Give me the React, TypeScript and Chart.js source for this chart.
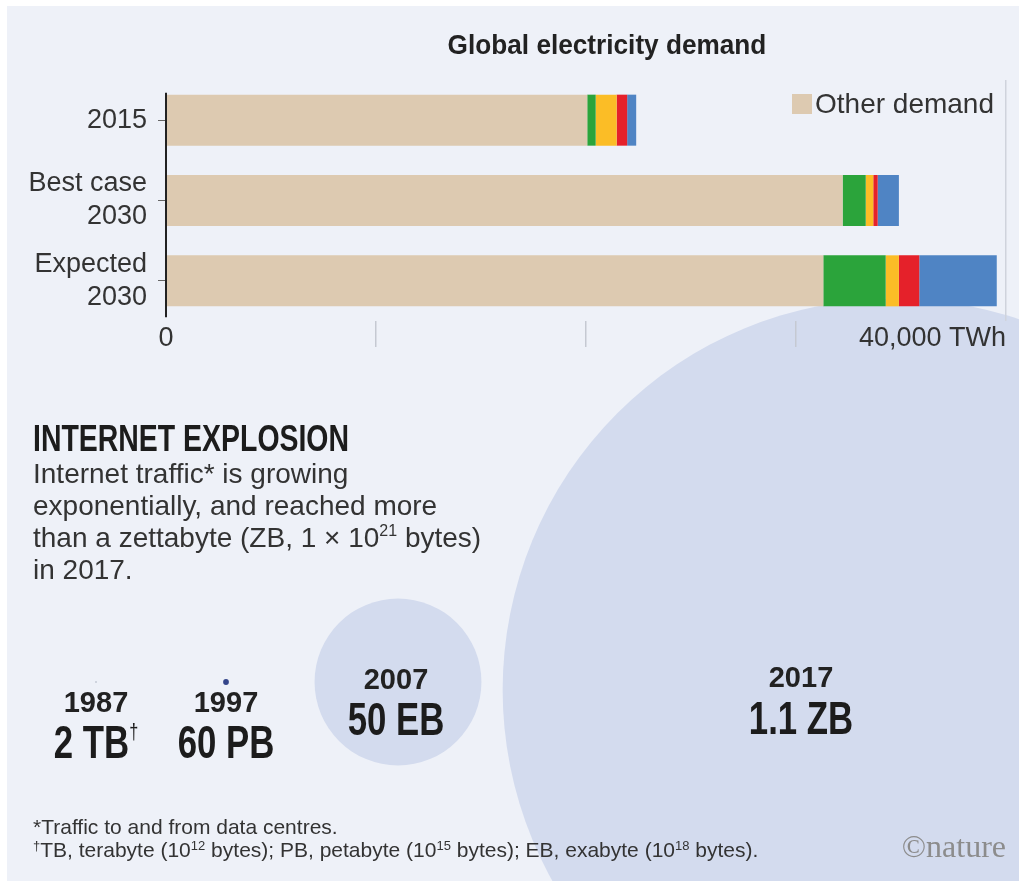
import React, { useEffect, useRef } from 'react';
import { Chart, registerables } from 'chart.js';

Chart.register(...registerables);

// ---------- Data: global electricity demand (TWh) ----------
const scenarios: (string | string[])[] = ['2015', ['Best case', '2030'], ['Expected', '2030']];
const otherDemand = [20060, 32220, 31300];
const greenSegment = [400, 1100, 2970];
const yellowSegment = [1000, 360, 630];
const redSegment = [500, 210, 970];
const blueSegment = [430, 1010, 3690];
const xTickValues = [0, 10000, 20000, 30000, 40000];
const xTickLabels = ['0', '', '', '', '40,000 TWh'];

// ---------- Data: internet traffic ----------
const years = ['1987', '1997', '2007', '2017'];
const trafficEB = [0.000002, 0.06, 50, 1100]; // 2 TB, 60 PB, 50 EB, 1.1 ZB in exabytes
const trafficLabels = ['2 TB', '60 PB', '50 EB', '1.1 ZB'];
// layout positions of the circles (page units)
const bubbleX = [96, 226, 398, 894];
const bubbleY = [682, 682, 682, 690];
const labelX = [96, 226, 396, 801];
const yearBaseline = [713, 713, 690, 688];
const valueBaseline = [758, 758, 735, 734];

const W = 1019;
const H = 881;
const BG = '#eef1f8';
const CIRCLE = '#d3dbee';
const FONT = '"Liberation Sans", Arial, sans-serif';
const INK = '#2a2a2a';

function T(props: {
  x: number; base: number; size: number; align?: 'left' | 'center' | 'right';
  lh?: number; sx?: number; style?: React.CSSProperties; children: React.ReactNode;
}) {
  const { x, base, size, align = 'left', lh, sx = 1, style, children } = props;
  const L = lh ?? size;
  const top = base - (L / 2 + 0.3465 * size);
  const tr = align === 'center' ? 'translateX(-50%) ' : align === 'right' ? 'translateX(-100%) ' : '';
  const origin = align === 'center' ? 'center center' : align === 'right' ? 'right center' : 'left center';
  return (
    <div
      style={{
        position: 'absolute', left: x, top, fontSize: size, lineHeight: `${L}px`,
        whiteSpace: 'nowrap', transform: `${tr}scaleX(${sx})`, transformOrigin: origin,
        textAlign: align, ...style,
      }}
    >
      {children}
    </div>
  );
}

const Sup = (p: { children: React.ReactNode; size: number; rise: number; weight?: number }) => (
  <span style={{ fontSize: p.size, position: 'relative', top: -p.rise, lineHeight: 0, fontWeight: p.weight }}>
    {p.children}
  </span>
);

export default function App() {
  const barRef = useRef<HTMLCanvasElement>(null);
  const bubbleRef = useRef<HTMLCanvasElement>(null);

  useEffect(() => {
    const bgPlugin = {
      id: 'bgPlugin',
      beforeDraw(chart: any) {
        const ctx = chart.ctx;
        ctx.save();
        ctx.fillStyle = '#ffffff';
        ctx.fillRect(0, 0, chart.width, chart.height);
        ctx.fillStyle = BG;
        ctx.fillRect(7, 6, chart.width - 7, chart.height - 6);
        ctx.restore();
      },
    };

    const K = 11.8; // px per sqrt(EB): circle area proportional to traffic
    const bubble = new Chart(bubbleRef.current!, {
      type: 'bubble',
      data: {
        datasets: [
          {
            label: 'Internet traffic',
            data: years.map((_, i) => ({
              x: bubbleX[i],
              y: bubbleY[i],
              r: Math.max(K * Math.sqrt(trafficEB[i]), 0.7),
            })),
            backgroundColor: ['#9aa0b2', '#34458a', CIRCLE, CIRCLE],
            borderWidth: 0,
            clip: false as any,
          },
        ],
      },
      options: {
        responsive: false,
        animation: false,
        events: [],
        layout: { padding: 0, autoPadding: false },
        plugins: { legend: { display: false }, tooltip: { enabled: false } },
        scales: {
          x: { type: 'linear', display: false, min: 0, max: W },
          y: { type: 'linear', display: false, min: 0, max: H, reverse: true },
        },
      },
      plugins: [bgPlugin],
    });

    const barDecor = {
      id: 'barDecor',
      afterDraw(chart: any) {
        const ctx = chart.ctx;
        const area = chart.chartArea;
        const xs = chart.scales.x;
        const meta = chart.getDatasetMeta(0);
        ctx.save();
        // axis line
        const first = meta.data[0];
        const last = meta.data[meta.data.length - 1];
        ctx.strokeStyle = '#222';
        ctx.lineWidth = 2;
        ctx.beginPath();
        ctx.moveTo(area.left, first.y - first.height / 2 - 2);
        ctx.lineTo(area.left, last.y + last.height / 2 + 11);
        ctx.stroke();
        // x tick labels
        ctx.fillStyle = '#333';
        ctx.font = `27px ${FONT}`;
        ctx.textBaseline = 'alphabetic';
        xTickValues.forEach((v, i) => {
          const lab = xTickLabels[i];
          if (!lab) return;
          const px = xs.getPixelForValue(v);
          ctx.textAlign = i === 0 ? 'center' : 'right';
          ctx.fillText(lab, px, area.bottom + 25);
        });
        // legend (Other demand only)
        const ds = chart.data.datasets[0];
        ctx.font = `28px ${FONT}`;
        ctx.textAlign = 'right';
        const tx = area.right - 12;
        ctx.fillText(ds.label, tx, area.top + 33);
        const tw = ctx.measureText(ds.label).width;
        ctx.fillStyle = ds.backgroundColor;
        ctx.fillRect(tx - tw - 23, area.top + 14, 20, 20);
        ctx.restore();
      },
    };

    const common = { borderWidth: 0, categoryPercentage: 1, barPercentage: 0.635 };
    const bar = new Chart(barRef.current!, {
      type: 'bar',
      data: {
        labels: scenarios as any,
        datasets: [
          { label: 'Other demand', data: otherDemand, backgroundColor: '#ddcab1', ...common },
          { label: 'Networks', data: greenSegment, backgroundColor: '#2ba43b', ...common },
          { label: 'Consumer devices', data: yellowSegment, backgroundColor: '#fbbd26', ...common },
          { label: 'Production of ICT', data: redSegment, backgroundColor: '#e5212a', ...common },
          { label: 'Data centres', data: blueSegment, backgroundColor: '#4f84c4', ...common },
        ],
      },
      options: {
        indexAxis: 'y',
        responsive: false,
        animation: false,
        events: [],
        layout: { padding: { top: 80, right: 13, bottom: 13, left: 0 } },
        plugins: { legend: { display: false }, tooltip: { enabled: false }, title: { display: false } },
        scales: {
          x: {
            stacked: true,
            min: 0,
            max: 40000,
            afterBuildTicks: (s: any) => { s.ticks = xTickValues.map((v) => ({ value: v })); },
            ticks: { display: false },
            border: { display: false },
            grid: {
              drawOnChartArea: true,
              drawTicks: true,
              tickLength: 26,
              lineWidth: 1.5,
              color: (c: any) => (c.tick && c.tick.value === 40000 ? '#cfd3dc' : 'rgba(0,0,0,0)'),
              tickColor: (c: any) =>
                c.tick && (c.tick.value === 0 || c.tick.value === 40000) ? 'rgba(0,0,0,0)' : '#c5c9d2',
            },
            afterFit: (s: any) => { s.height = 26; },
          },
          y: {
            stacked: true,
            border: { display: false },
            grid: {
              offset: false, drawOnChartArea: false, drawTicks: true, tickLength: 8,
              color: '#555', tickColor: '#666',
            },
            ticks: { color: '#333', padding: 11, font: { family: FONT, size: 27, lineHeight: 1.22 } },
            afterFit: (s: any) => { s.width = 166; },
          },
        },
      },
      plugins: [barDecor],
    });

    return () => {
      bar.destroy();
      bubble.destroy();
    };
  }, []);

  const condensed: React.CSSProperties = { fontWeight: 700, color: '#1c1c1c' };

  return (
    <div
      style={{
        position: 'absolute', left: 0, top: 0, width: W, height: H, overflow: 'hidden',
        fontFamily: FONT, color: INK, background: '#fff',
      }}
    >
      <canvas ref={bubbleRef} width={W} height={H} style={{ position: 'absolute', left: 0, top: 0 }} />
      <canvas ref={barRef} width={W} height={360} style={{ position: 'absolute', left: 0, top: 0 }} />

      <T x={607} base={55} size={27} sx={0.97} align="center" style={{ fontWeight: 700, color: '#222' }}>
        Global electricity demand
      </T>

      <T x={33} base={451} size={36} sx={0.79} style={condensed}>
        INTERNET EXPLOSION
      </T>
      <T x={33} base={484} size={28} lh={32} style={{ color: '#333' }}>
        Internet traffic* is growing
        <br />
        exponentially, and reached more
        <br />
        than a zettabyte (ZB, 1 × 10<Sup size={16} rise={11}>21</Sup> bytes)
        <br />
        in 2017.
      </T>

      {years.map((yr, i) => (
        <React.Fragment key={yr}>
          <T x={labelX[i]} base={yearBaseline[i]} size={29} align="center" style={{ fontWeight: 700, color: '#222' }}>
            {yr}
          </T>
          <T x={labelX[i]} base={valueBaseline[i]} size={47} sx={0.74} align="center" style={condensed}>
            {trafficLabels[i]}
            {i === 0 ? <Sup size={22} rise={19} weight={400}>†</Sup> : null}
          </T>
        </React.Fragment>
      ))}

      <T x={33} base={834} size={21} style={{ color: '#333' }}>
        *Traffic to and from data centres.
      </T>
      <T x={33} base={857} size={21} style={{ color: '#333' }}>
        <Sup size={13} rise={7}>†</Sup>TB, terabyte (10<Sup size={13} rise={7}>12</Sup> bytes); PB, petabyte (10
        <Sup size={13} rise={7}>15</Sup> bytes); EB, exabyte (10<Sup size={13} rise={7}>18</Sup> bytes).
      </T>
      <T x={1006} base={857} size={32} align="right" style={{ fontFamily: '"Liberation Serif", serif', color: '#8c8c8c' }}>
        ©nature
      </T>
    </div>
  );
}
